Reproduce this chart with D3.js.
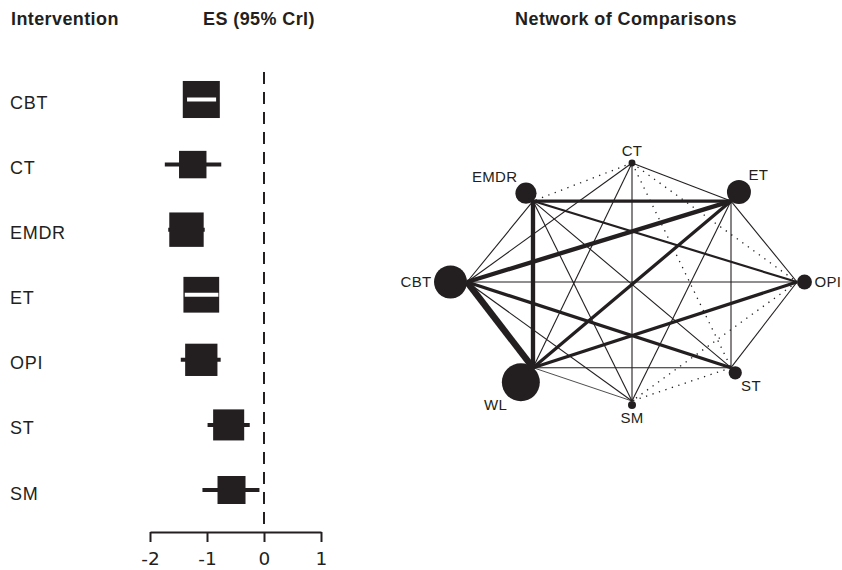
<!DOCTYPE html>
<html>
<head>
<meta charset="utf-8">
<script src="https://cdn.jsdelivr.net/npm/d3@7"></script>
<style>
  body { margin: 0; background: #fff; }
  text { font-family: "Liberation Sans", Arial, sans-serif; fill: #231f20; }
</style>
</head>
<body>
<svg id="chart" width="842" height="570"></svg>
<script>
// forest plot data
const interventions = ["CBT", "CT", "EMDR", "ET", "OPI", "ST", "SM"];
const es = [-1.10, -1.25, -1.36, -1.10, -1.10, -0.62, -0.57];
const lower = [-1.35, -1.74, -1.68, -1.39, -1.46, -0.99, -1.08];
const upper = [-0.84, -0.75, -1.04, -0.80, -0.76, -0.25, -0.08];
const weight = [1.75, 0.96, 1.51, 1.63, 1.33, 1.23, 1.0];
const esTicks = [-2, -1, 0, 1];

// network data
const nodes = ["CT", "ET", "OPI", "ST", "SM", "WL", "CBT", "EMDR"];
const nodeSize = [3, 36, 14, 11, 4, 90, 68, 28];
// [from, to, studies]; 0 = no direct comparison (dotted)
const edges = [
  ["CT", "ET", 1], ["CT", "OPI", 0], ["CT", "ST", 0], ["CT", "SM", 1],
  ["CT", "WL", 1], ["CT", "CBT", 1], ["CT", "EMDR", 0],
  ["ET", "OPI", 1], ["ET", "ST", 1], ["ET", "SM", 1], ["ET", "WL", 3],
  ["ET", "CBT", 4], ["ET", "EMDR", 3],
  ["OPI", "ST", 1], ["OPI", "SM", 0], ["OPI", "WL", 3], ["OPI", "CBT", 1],
  ["OPI", "EMDR", 2],
  ["ST", "SM", 0], ["ST", "WL", 1], ["ST", "CBT", 3], ["ST", "EMDR", 1],
  ["SM", "WL", 0.5], ["SM", "CBT", 1], ["SM", "EMDR", 1],
  ["WL", "CBT", 6], ["WL", "EMDR", 4],
  ["CBT", "EMDR", 1]
];

const ink = "#231f20";
const svg = d3.select("#chart");

// headers
const header = (tx, ty, anchor, label) => svg.append("text")
  .attr("x", tx).attr("y", ty).attr("text-anchor", anchor)
  .attr("font-size", 18).attr("font-weight", "bold")
  .attr("letter-spacing", 0.4)
  .text(label);
header(11, 25, "start", "Intervention");
header(259, 25, "middle", "ES (95% CrI)");
header(626, 25, "middle", "Network of Comparisons");

// ---------- forest plot ----------
const x = d3.scaleLinear().domain([-2, 1]).range([150, 321]);
const y = d3.scalePoint().domain(interventions).range([99.5, 490]);
const side = d3.scaleSqrt().domain([0, 1]).range([0, 28]);

const rows = interventions.map((name, i) => ({
  name, es: es[i], lo: lower[i], hi: upper[i], w: weight[i]
}));

svg.append("line")
  .attr("x1", x(0)).attr("x2", x(0))
  .attr("y1", 72).attr("y2", 531)
  .attr("stroke", ink).attr("stroke-width", 2)
  .attr("stroke-dasharray", "12,8");

svg.append("g").selectAll("text")
  .data(rows)
  .join("text")
    .attr("x", 10)
    .attr("y", d => y(d.name) + 9.5)
    .attr("font-size", 18)
    .attr("letter-spacing", 0.7)
    .text(d => d.name);

const row = svg.append("g").selectAll("g")
  .data(rows)
  .join("g")
    .attr("transform", d => `translate(0,${y(d.name)})`);

row.each(function(d) {
  const g = d3.select(this);
  const s = side(d.w);
  const inside = x(d.lo) >= x(d.es) - s / 2 && x(d.hi) <= x(d.es) + s / 2;
  const ci = () => g.append("line")
    .attr("x1", x(d.lo)).attr("x2", x(d.hi))
    .attr("stroke-width", 4);
  if (!inside) ci().attr("stroke", ink);
  g.append("rect")
    .attr("x", x(d.es) - s / 2).attr("y", -s / 2)
    .attr("width", s).attr("height", s)
    .attr("fill", ink);
  if (inside) ci().attr("stroke", "#fff");
});

const axis = svg.append("g")
  .attr("transform", "translate(0,532)")
  .call(d3.axisBottom(x).tickValues(esTicks).tickSize(10).tickSizeOuter(0)
    .tickPadding(10).tickFormat(d => String(d)));
axis.select(".domain").attr("stroke", ink).attr("stroke-width", 2);
axis.selectAll(".tick line").attr("stroke", ink).attr("stroke-width", 2);
axis.selectAll(".tick text")
  .style("font-family", "'DejaVu Sans', sans-serif")
  .attr("font-size", 18.5).attr("fill", ink);

// ---------- network ----------
// octagon layout, unit coordinates
const layout = {
  CT: [0, -1], ET: [0.6, -0.68], OPI: [1, 0], ST: [0.6, 0.72],
  SM: [0, 1], WL: [-0.6, 0.72], CBT: [-1, 0], EMDR: [-0.6, -0.68]
};
const nx = d3.scaleLinear().domain([-1, 1]).range([467, 797]);
const ny = d3.scaleLinear().domain([-1, 1]).range([163, 401]);
const radius = d3.scaleSqrt().domain([0, 1]).range([0, 2]);
const width = d3.scaleLinear().domain([1, 6]).range([1.1, 6.5]);

const pos = new Map(nodes.map((n, i) => {
  const [lx, ly] = layout[n];
  const len = Math.hypot(lx, ly);
  return [n, { x: nx(lx), y: ny(ly), ux: lx / len, uy: ly / len, r: radius(nodeSize[i]) }];
}));

const net = svg.append("g");
net.selectAll("line")
  .data(edges.slice().sort((a, b) => a[2] - b[2]))
  .join("line")
    .attr("x1", d => pos.get(d[0]).x).attr("y1", d => pos.get(d[0]).y)
    .attr("x2", d => pos.get(d[1]).x).attr("y2", d => pos.get(d[1]).y)
    .attr("stroke", ink)
    .attr("stroke-width", d => d[2] === 0 ? 1.3 : Math.max(0.8, width(d[2])))
    .attr("stroke-dasharray", d => d[2] === 0 ? "1.3,5.5" : null);

const node = net.selectAll("g.node")
  .data(nodes)
  .join("g")
    .attr("class", "node");

// CT sits on its vertex, the rest are pushed outward by their radius
const shift = n => n === "CT" ? 0 : pos.get(n).r;

node.append("circle")
  .attr("cx", n => { const p = pos.get(n); return p.x + p.ux * shift(n); })
  .attr("cy", n => { const p = pos.get(n); return p.y + p.uy * shift(n); })
  .attr("r", n => pos.get(n).r)
  .attr("fill", ink);

node.append("text")
  .attr("font-size", 15)
  .attr("letter-spacing", 0.3)
  .attr("x", n => { const p = pos.get(n); return p.x + p.ux * (shift(n) + p.r + 2.5); })
  .attr("y", n => { const p = pos.get(n); return p.y + p.uy * (shift(n) + p.r + 3); })
  .attr("text-anchor", n => {
    const u = pos.get(n).ux;
    return u < -0.1 ? "end" : u > 0.1 ? "start" : "middle";
  })
  .attr("dy", n => {
    const u = pos.get(n).uy;
    return u < -0.1 ? "-0.05em" : u > 0.1 ? "0.75em" : "0.35em";
  })
  .text(n => n);
</script>
</body>
</html>
